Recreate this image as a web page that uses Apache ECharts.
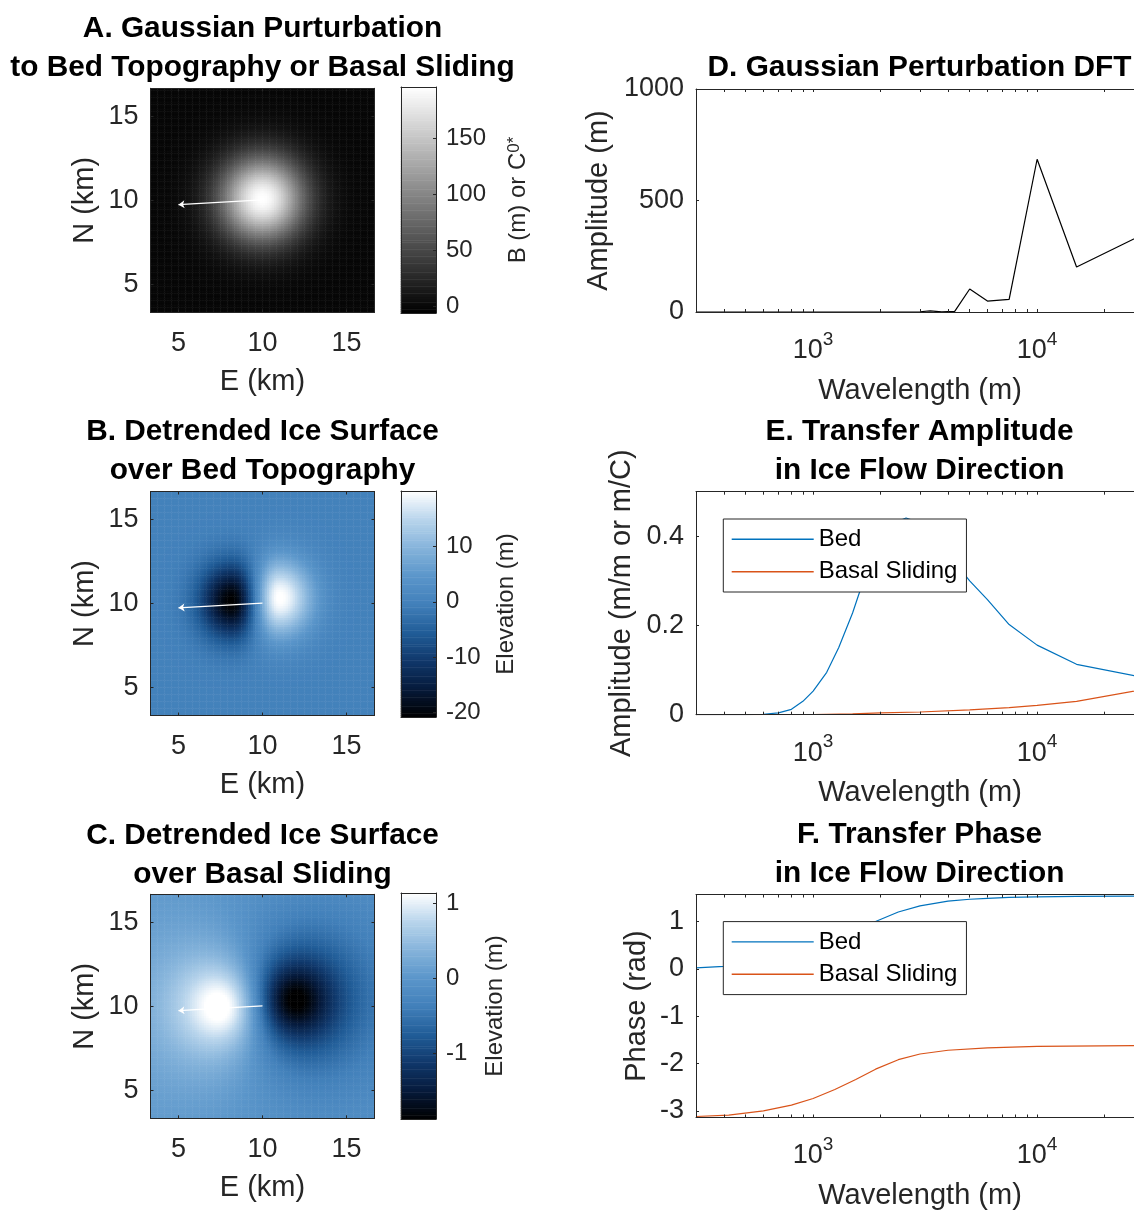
<!DOCTYPE html>
<html>
<head>
<meta charset="utf-8">
<script src="https://cdn.jsdelivr.net/npm/echarts@6/dist/echarts.min.js"></script>
<style>
html,body{margin:0;padding:0;background:#ffffff;}
#chart{width:1134px;height:1212px;}
</style>
</head>
<body>
<div id="chart"></div>
<script>
// ================= DATA =================
// Map panels (A, B, C): axis extent and ticks, km
const mapRange = [3.333, 16.667];
const mapTicks = [5, 10, 15];
// Ice-flow arrow drawn on every map (E, N in km)
const arrowStart = [10.0, 10.02];
const arrowEnd = [5.0, 9.74];

// A. Gaussian perturbation: centre (km), peak (m), sigma (km)
const aCenter = [10.0, 10.1];
const aPeak = 195.6;
const aSigma = 1.75;
const aColorRange = [-5.6, 195.6];
const aColorTicks = [0, 50, 100, 150];

// B. Detrended surface over bed: lobes [E, N, amplitude m, sigmaWest, sigmaEast, sigmaN]
const bLobeLow = [8.2, 10.15, -21.0, 1.35, 0.9, 1.55];
const bLobeHigh = [11.0, 10.35, 20.4, 0.9, 1.4, 1.6];
const bColorRange = [-20.8, 20.0];
const bColorTicks = [-20, -10, 0, 10];

// C. Detrended surface over basal sliding: lobes [E, N, amplitude m, width km]
const cLobeHigh = [8.0, 10.05, 2.29, 3.0];
const cLobeLow = [11.6, 10.35, -2.81, 3.0];
const cColorRange = [-1.88, 1.14];
const cColorTicks = [-1, 0, 1];

// Line panels: wavelength axis (m)
const waveRange = [300, 30000];
const waveMajor = [1000, 10000];
const waveMinor = [400, 500, 600, 700, 800, 900, 2000, 3000, 4000, 5000, 6000, 7000, 8000, 9000, 20000, 30000];

// D. Gaussian perturbation DFT
const dftWave = [300, 1000, 2000, 2727, 3000, 3333, 3750, 4286, 5000, 6000, 7500, 10000, 15000, 30000];
const dftAmp  = [0,   0,    0,    0,    1,    5,    1,    3,    103,  49,   57,   685,   202,   350];
const dRange = [0, 1000];
const dTicks = [0, 500, 1000];

// E. Transfer amplitude
const ampBedWave = [300, 500, 600, 700, 800, 900, 1000, 1150, 1300, 1500, 1600, 1800, 2000, 2300, 2600, 3000, 3333, 3750, 4286, 5000, 6000, 7500, 10000, 15000, 30000];
const ampBed     = [0, 0, 0.001, 0.004, 0.012, 0.03, 0.053, 0.095, 0.15, 0.228, 0.27, 0.34, 0.39, 0.43, 0.441, 0.43, 0.41, 0.38, 0.342, 0.30, 0.258, 0.202, 0.156, 0.113, 0.083];
const ampSlideWave = [300, 1000, 1500, 2000, 3000, 5000, 7500, 10000, 15000, 30000];
const ampSlide     = [0, 0.0005, 0.002, 0.004, 0.006, 0.011, 0.016, 0.021, 0.030, 0.057];
const eRange = [0, 0.5];
const eTicks = [0, 0.2, 0.4];

// F. Transfer phase
const phBedWave = [300, 400, 500, 700, 1000, 1300, 1600, 1900, 2400, 3000, 4000, 5000, 6000, 7500, 10000, 15000, 30000];
const phBed     = [0.02, 0.05, 0.08, 0.15, 0.32, 0.55, 0.78, 1.0, 1.2, 1.33, 1.43, 1.47, 1.49, 1.51, 1.52, 1.53, 1.54];
const phSlideWave = [300, 420, 600, 800, 1000, 1250, 1550, 1900, 2400, 3000, 4000, 6000, 10000, 30000];
const phSlide     = [-3.12, -3.09, -3.0, -2.88, -2.74, -2.55, -2.34, -2.12, -1.92, -1.80, -1.72, -1.67, -1.64, -1.62];
const fRange = [-Math.PI, Math.PI / 2];
const fTicks = [-3, -2, -1, 0, 1];

const seriesNames = ['Bed', 'Basal Sliding'];

// ================= STYLE =================
const FONT = '"Liberation Sans", Arial, Helvetica, sans-serif';
const INK = '#262626';
const TICK_FS = 27, NAME_FS = 29, TITLE_FS = 29.8, CB_FS = 24, LEG_FS = 24;
const BLUE = '#0072BD', ORANGE = '#D95319';
const grayMap = ['#000000', '#ffffff'];
const blueMap = ['#000000', '#061a3b', '#10386b', '#215d98', '#4280ba', '#5b96ca', '#86b4db', '#b9d5ec', '#ffffff'];
const MAP_N = 96, CB_N = 128;

// ================= BUILD =================
const grids = [], xAxes = [], yAxes = [], series = [], visualMaps = [];
const addGrid = r => { grids.push(Object.assign({ show: false, containLabel: false, outerBoundsMode: 'none' }, r)); return grids.length - 1; };
const addX = o => { xAxes.push(o); return xAxes.length - 1; };
const addY = o => { yAxes.push(o); return yAxes.length - 1; };
const lineOn = { show: true, onZero: false, lineStyle: { color: INK, width: 1 } };
const noLine = { show: false, onZero: false };
const noSplit = { show: false };
const plain = v => String(v);
const txt = (fs, extra) => Object.assign({ fontFamily: FONT, fontSize: fs, color: INK, lineHeight: fs }, extra || {});

function mapPanel(box, cbox, field, cRange, cTicks, colors, cName, cNameGap, cRich) {
  const g = addGrid(box);
  const cats = Array.from({ length: MAP_N }, (_, i) => i);
  const xc = addX({ type: 'category', gridIndex: g, data: cats, show: false, axisLine: noLine });
  const yc = addY({ type: 'category', gridIndex: g, data: cats, show: false, axisLine: noLine });
  const common = { type: 'value', gridIndex: g, min: mapRange[0], max: mapRange[1], splitLine: noSplit, z: 5, axisLine: lineOn };
  const xv = addX(Object.assign({}, common, {
    position: 'bottom',
    axisTick: { show: true, inside: true, length: 3, customValues: mapTicks, lineStyle: { color: INK } },
    axisLabel: Object.assign({ customValues: mapTicks, margin: 18, formatter: plain }, txt(TICK_FS)),
    name: 'E (km)', nameLocation: 'middle', nameGap: 55, nameMoveOverlap: false, nameTextStyle: txt(NAME_FS)
  }));
  addX(Object.assign({}, common, {
    position: 'top',
    axisTick: { show: true, inside: true, length: 3, customValues: mapTicks, lineStyle: { color: INK } },
    axisLabel: { show: false }
  }));
  const yv = addY(Object.assign({}, common, {
    position: 'left',
    axisTick: { show: true, inside: true, length: 3, customValues: mapTicks, lineStyle: { color: INK } },
    axisLabel: Object.assign({ customValues: mapTicks, margin: 12, formatter: plain }, txt(TICK_FS)),
    name: 'N (km)', nameLocation: 'middle', nameRotate: 90, nameGap: 51, nameMoveOverlap: false, nameTextStyle: txt(NAME_FS)
  }));
  addY(Object.assign({}, common, {
    position: 'right',
    axisTick: { show: true, inside: true, length: 3, customValues: mapTicks, lineStyle: { color: INK } },
    axisLabel: { show: false }
  }));
  const step = (mapRange[1] - mapRange[0]) / MAP_N;
  const data = [];
  for (let j = 0; j < MAP_N; j++) {
    const y = mapRange[0] + (j + 0.5) * step;
    for (let i = 0; i < MAP_N; i++) {
      const x = mapRange[0] + (i + 0.5) * step;
      data.push([i, j, field(x, y)]);
    }
  }
  const sMap = series.length;
  series.push({ type: 'heatmap', xAxisIndex: xc, yAxisIndex: yc, data: data, progressive: 0, silent: true, emphasis: { disabled: true } });
  series.push({
    type: 'line', xAxisIndex: xv, yAxisIndex: yv, data: [], silent: true, z: 4,
    markLine: {
      silent: true, animation: false, symbol: ['none', 'arrow'], symbolSize: 6, label: { show: false },
      lineStyle: { color: '#ffffff', width: 1.3, type: 'solid' },
      emphasis: { disabled: true },
      data: [[{ coord: arrowStart }, { coord: arrowEnd }]]
    }
  });

  // colour bar
  const cg = addGrid(cbox);
  const bx = addX({ type: 'category', gridIndex: cg, data: [0], show: false, axisLine: noLine });
  const by = addY({ type: 'category', gridIndex: cg, data: Array.from({ length: CB_N }, (_, i) => i), show: false, axisLine: noLine });
  addX({ type: 'value', gridIndex: cg, position: 'bottom', min: 0, max: 1, axisLine: lineOn, axisTick: { show: false }, axisLabel: { show: false }, splitLine: noSplit, z: 5 });
  addX({ type: 'value', gridIndex: cg, position: 'top', min: 0, max: 1, axisLine: lineOn, axisTick: { show: false }, axisLabel: { show: false }, splitLine: noSplit, z: 5 });
  addY({ type: 'value', gridIndex: cg, position: 'left', min: cRange[0], max: cRange[1], axisLine: lineOn, axisTick: { show: false }, axisLabel: { show: false }, splitLine: noSplit, z: 5 });
  addY({
    type: 'value', gridIndex: cg, position: 'right', min: cRange[0], max: cRange[1], axisLine: lineOn, splitLine: noSplit, z: 5,
    axisTick: { show: true, inside: true, length: 3, customValues: cTicks, lineStyle: { color: INK } },
    axisLabel: Object.assign({ customValues: cTicks, margin: 10, formatter: plain }, txt(CB_FS)),
    name: cName, nameLocation: 'middle', nameRotate: 90, nameGap: cNameGap, nameMoveOverlap: false,
    nameTextStyle: txt(CB_FS, cRich ? { rich: cRich } : {})
  });
  const bar = [];
  for (let k = 0; k < CB_N; k++) bar.push([0, k, cRange[0] + (k + 0.5) / CB_N * (cRange[1] - cRange[0])]);
  const sBar = series.length;
  series.push({ type: 'heatmap', xAxisIndex: bx, yAxisIndex: by, data: bar, progressive: 0, silent: true, emphasis: { disabled: true } });
  visualMaps.push({ type: 'continuous', show: false, seriesIndex: [sMap, sBar], min: cRange[0], max: cRange[1], inRange: { color: colors } });
}

const supRich = {
  b: { fontFamily: FONT, fontSize: TICK_FS, color: INK, lineHeight: 34, verticalAlign: 'bottom' },
  s: { fontFamily: FONT, fontSize: 19, color: INK, lineHeight: 19, verticalAlign: 'top' }
};

function linePanel(box, yRange, yTicks, yName, yNameGap, lines) {
  const g = addGrid(box);
  const logCommon = { type: 'log', logBase: 10, gridIndex: g, min: waveRange[0], max: waveRange[1], splitLine: noSplit, minorTick: { show: false }, minorSplitLine: { show: false }, z: 5 };
  const xMaj = addX(Object.assign({}, logCommon, {
    position: 'bottom', axisLine: lineOn,
    axisTick: { show: true, inside: true, length: 3, customValues: waveMajor, lineStyle: { color: INK } },
    axisLabel: {
      customValues: waveMajor, margin: 18, fontFamily: FONT, fontSize: TICK_FS, color: INK,
      formatter: v => '{b|10}{s|' + Math.round(Math.log10(v)) + '}',
      rich: supRich
    },
    name: 'Wavelength (m)', nameLocation: 'middle', nameGap: 64, nameMoveOverlap: false, nameTextStyle: txt(NAME_FS)
  }));
  addX(Object.assign({}, logCommon, {
    position: 'bottom', axisLine: noLine,
    axisTick: { show: true, inside: true, length: 3, customValues: waveMinor, lineStyle: { color: INK } },
    axisLabel: { show: false }
  }));
  addX(Object.assign({}, logCommon, {
    position: 'top', axisLine: lineOn,
    axisTick: { show: true, inside: true, length: 3, customValues: waveMajor.concat(waveMinor), lineStyle: { color: INK } },
    axisLabel: { show: false }
  }));
  const yv = addY({
    type: 'value', gridIndex: g, position: 'left', min: yRange[0], max: yRange[1], splitLine: noSplit, z: 5, axisLine: lineOn,
    axisTick: { show: true, inside: true, length: 3, customValues: yTicks, lineStyle: { color: INK } },
    axisLabel: Object.assign({ customValues: yTicks, margin: 12, formatter: plain }, txt(TICK_FS)),
    name: yName, nameLocation: 'middle', nameRotate: 90, nameGap: yNameGap, nameMoveOverlap: false, nameTextStyle: txt(NAME_FS)
  });
  addY({
    type: 'value', gridIndex: g, position: 'right', min: yRange[0], max: yRange[1], splitLine: noSplit, z: 5, axisLine: lineOn,
    axisTick: { show: true, inside: true, length: 3, customValues: yTicks, lineStyle: { color: INK } },
    axisLabel: { show: false }
  });
  lines.forEach(l => {
    series.push({
      type: 'line', name: l.name, xAxisIndex: xMaj, yAxisIndex: yv,
      data: l.x.map((x, i) => [x, l.y[i]]),
      symbol: 'none', showSymbol: false, smooth: false, clip: true, silent: true,
      lineStyle: { color: l.color, width: 1.2 }, itemStyle: { color: l.color },
      emphasis: { disabled: true }
    });
  });
}

// ---- fields for the maps ----
const fieldA = (x, y) => aPeak * Math.exp(-((x - aCenter[0]) ** 2 + (y - aCenter[1]) ** 2) / (2 * aSigma * aSigma));
const gLobe = (L, x, y) => {
  const sx = x < L[0] ? L[3] : L[4];
  return L[2] * Math.exp(-((x - L[0]) ** 2 / (2 * sx * sx) + (y - L[1]) ** 2 / (2 * L[5] * L[5])));
};
const fieldB = (x, y) => gLobe(bLobeLow, x, y) + gLobe(bLobeHigh, x, y);
const rLobe = (L, x, y) => L[2] / (1 + ((x - L[0]) ** 2 + (y - L[1]) ** 2) / (L[3] * L[3]));
const fieldC = (x, y) => rLobe(cLobeHigh, x, y) + rLobe(cLobeLow, x, y);

const mapBox = top => ({ left: 150.5, top: top, width: 224, height: 224 });
const cbBox = top => ({ left: 401, top: top, width: 35, height: 226 });
const lineBox = top => ({ left: 696, top: top, width: 448, height: 223 });

mapPanel(mapBox(88.3), cbBox(87), fieldA, aColorRange, aColorTicks, grayMap,
  'B (m) or C{sup|0*}', 70, { sup: { fontFamily: FONT, fontSize: 17, color: INK, lineHeight: 17, verticalAlign: 'top', padding: [0, 0, 10, 0] } });
mapPanel(mapBox(491.5), cbBox(491), fieldB, bColorRange, bColorTicks, blueMap, 'Elevation (m)', 58);
mapPanel(mapBox(894.3), cbBox(893), fieldC, cColorRange, cColorTicks, blueMap, 'Elevation (m)', 47);

linePanel(lineBox(89), dRange, dTicks, 'Amplitude (m)', 83, [
  { name: 'DFT', x: dftWave, y: dftAmp, color: '#000000' }
]);
linePanel(lineBox(491.7), eRange, eTicks, 'Amplitude (m/m or m/C)', 60, [
  { name: seriesNames[0], x: ampBedWave, y: ampBed, color: BLUE },
  { name: seriesNames[1], x: ampSlideWave, y: ampSlide, color: ORANGE }
]);
linePanel(lineBox(894.5), fRange, fTicks, 'Phase (rad)', 45, [
  { name: seriesNames[0], x: phBedWave, y: phBed, color: BLUE },
  { name: seriesNames[1], x: phSlideWave, y: phSlide, color: ORANGE }
]);

const titleStyle = { fontFamily: FONT, fontSize: TITLE_FS, fontWeight: 'bold', color: '#000000', lineHeight: 39 };
const mkTitle = (text, cx, top) => ({ text: text, left: cx, top: top, textAlign: 'center', padding: 0, textStyle: titleStyle });
const titles = [
  mkTitle('A. Gaussian Purturbation\nto Bed Topography or Basal Sliding', 262.5, 9.5),
  mkTitle('B. Detrended Ice Surface\nover Bed Topography', 262.5, 412.5),
  mkTitle('C. Detrended Ice Surface\nover Basal Sliding', 262.5, 816),
  mkTitle('D. Gaussian Perturbation DFT', 919.5, 48.5),
  mkTitle('E. Transfer Amplitude\nin Ice Flow Direction', 919.5, 412.5),
  mkTitle('F. Transfer Phase\nin Ice Flow Direction', 919.5, 815.5)
];

const mkLegend = top => ({
  show: true, left: 723.3, top: top, orient: 'vertical', data: seriesNames, selectedMode: false,
  icon: 'rect', itemWidth: 82, itemHeight: 1.4, itemGap: 8.4,
  padding: [8.3, 9, 8.3, 8.4], borderColor: INK, borderWidth: 1, backgroundColor: '#ffffff',
  textStyle: { fontFamily: FONT, fontSize: LEG_FS, color: '#000000', lineHeight: 24 },
  z: 10
});

const chart = echarts.init(document.getElementById('chart'), null, { renderer: 'canvas', width: 1134, height: 1212 });
chart.setOption({
  backgroundColor: '#ffffff',
  animation: false,
  textStyle: { fontFamily: FONT },
  title: titles,
  legend: [mkLegend(519), mkLegend(921.6)],
  grid: grids,
  xAxis: xAxes,
  yAxis: yAxes,
  visualMap: visualMaps,
  series: series
});
</script>
</body>
</html>
